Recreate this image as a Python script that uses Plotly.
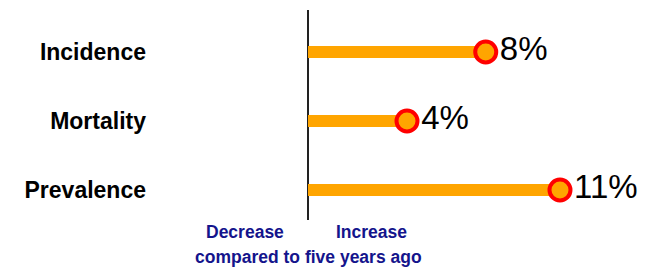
import plotly.graph_objects as go

categories = ["Incidence", "Mortality", "Prevalence"]
values = [7.9, 4.4, 11.2]          # percent change vs five years ago
labels = ["8%", "4%", "11%"]
axis_notes = ["Decrease", "Increase"]
axis_title = "compared to five years ago"

FONT = "Arial, Liberation Sans, sans-serif"
ORANGE = "#FFA500"
RED = "#FF0000"
NAVY = "#14148C"

ypos = list(range(len(categories)))

fig = go.Figure()

# stems
for y, v in zip(ypos, values):
    fig.add_trace(go.Scatter(
        x=[0, v], y=[y, y], mode="lines",
        line=dict(color=ORANGE, width=12),
        hoverinfo="skip", showlegend=False,
    ))

# heads + labels
fig.add_trace(go.Scatter(
    x=values, y=ypos, mode="markers+text",
    text=labels, textposition="middle right",
    textfont=dict(family=FONT, size=33, color="black"),
    marker=dict(size=21, color=ORANGE, line=dict(color=RED, width=4)),
    showlegend=False, cliponaxis=False,
))

# bottom notes
for xv, txt, yv in [(-2.8, axis_notes[0], -0.057), (2.84, axis_notes[1], -0.057), (0, axis_title, -0.176)]:
    fig.add_annotation(x=xv, y=yv, xref="x", yref="paper", text=f"<b>{txt}</b>",
                       xanchor="center", yanchor="middle", showarrow=False,
                       font=dict(family=FONT, size=17.5, color=NAVY))

fig.update_layout(
    width=664, height=269,
    margin=dict(l=152, r=32, t=2, b=57),
    paper_bgcolor="white", plot_bgcolor="white",
    xaxis=dict(range=[-6.578, 14.756], showgrid=False, showticklabels=False,
               zeroline=True, zerolinecolor="#222222", zerolinewidth=2,
               showline=False, ticks=""),
    yaxis=dict(range=[2.435, -0.609], tickvals=ypos,
               ticktext=[f"<b>{c}</b>" for c in categories],
               tickfont=dict(family=FONT, size=23, color="black"),
               showgrid=False, zeroline=False, showline=False, ticks="",
               ticklabelstandoff=13),
)

fig.write_html("out.html")
